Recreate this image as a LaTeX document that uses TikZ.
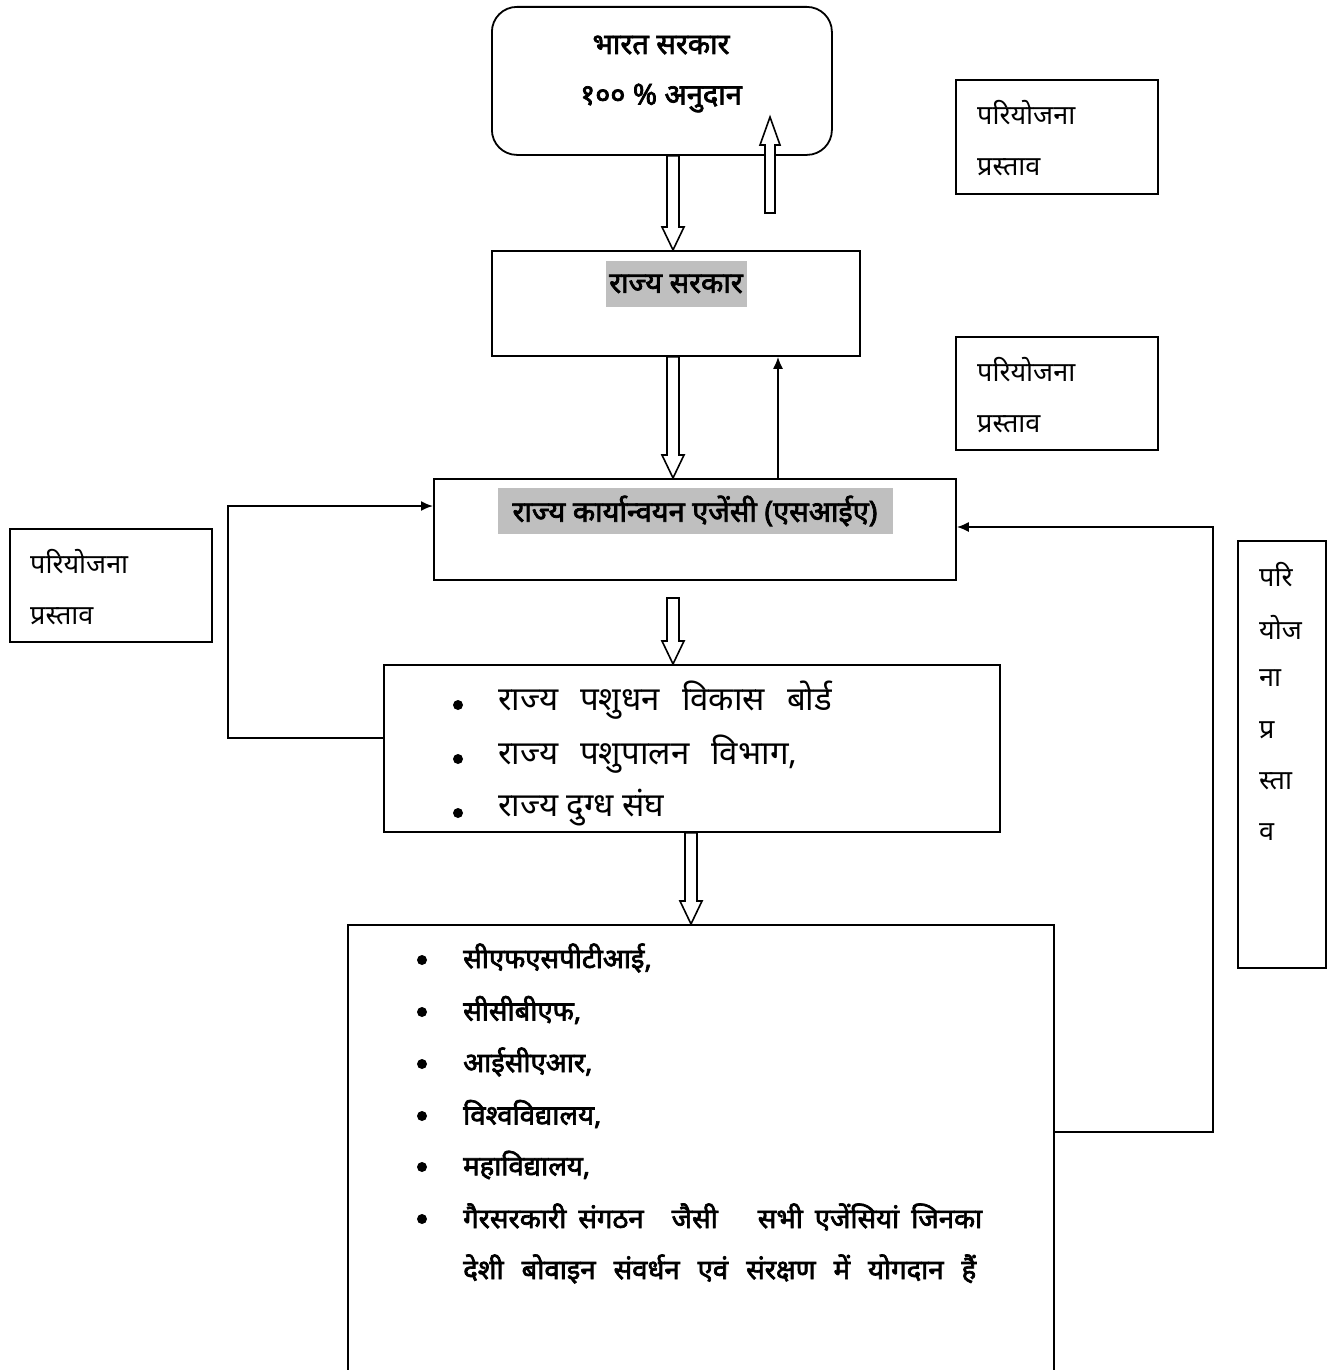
\documentclass[tikz,border=0pt]{standalone}
\usepackage{fontspec}
\newfontfamily\dev[Script=Devanagari]{Noto Sans}
\newfontfamily\devb[Script=Devanagari,FakeBold=2.5]{Noto Sans}
\usetikzlibrary{calc,arrows.meta}
\newcommand\hollowdown[2]{%
  \draw[hollow] let \p1=#1, \p2=#2 in
    (\x1-6pt,\y1) -- (\x1-6pt,\y2+23pt) -- (\x1-11pt,\y2+23pt) -- (\x1,\y2)
    -- (\x1+11pt,\y2+23pt) -- (\x1+6pt,\y2+23pt) -- (\x1+6pt,\y1) -- cycle;}
\newcommand\hollowup[2]{%
  \draw[hollow] let \p1=#1, \p2=#2 in
    (\x1-5pt,\y1) -- (\x1-5pt,\y2-28pt) -- (\x1-10pt,\y2-28pt) -- (\x1,\y2)
    -- (\x1+10pt,\y2-28pt) -- (\x1+5pt,\y2-28pt) -- (\x1+5pt,\y1) -- cycle;}
\newcommand\gap[1]{\hspace{#1pt}}
\begin{document}
\begin{tikzpicture}[x=1pt,y=-1pt,
  box/.style={draw, line width=1.8pt, rectangle, inner sep=0pt, anchor=north west},
  lbl/.style={font=\dev\fontsize{27}{30}\selectfont, anchor=west, inner sep=0pt},
  hd/.style={font=\devb\fontsize{29}{32}\selectfont, inner sep=0pt},
  item/.style={font=\dev\fontsize{33}{36}\selectfont, anchor=west, inner sep=0pt},
  bitem/.style={font=\devb\fontsize{27.5}{32}\selectfont, anchor=west, inner sep=0pt},
  hl/.style={fill=black!25, minimum height=46pt},
  dot/.style={circle, fill=black, inner sep=0pt, minimum size=10pt},
  conn/.style={line width=1.8pt, -{Latex[length=12pt,width=10pt]}},
  hollow/.style={line width=1.6pt, fill=white, line join=miter}]
\useasboundingbox (0,0) rectangle (1336,1370);
\fill[white] (0,0) rectangle (1336,1370);

% main boxes
\node[box, rounded corners=25pt, minimum width=340pt, minimum height=148pt] (goi) at (491,6) {};
\node[hd] (goi1) at (661,45) {भारत सरकार};
\node[hd] (goi2) at (661,98) {१०० \% अनुदान};

\node[box, minimum width=368pt, minimum height=105pt] (rs) at (491,250) {};
\node[hd, hl, minimum width=141pt] (rst) at (676,284) {राज्य सरकार};

\node[box, minimum width=522pt, minimum height=101pt] (sia) at (433,478) {};
\node[hd, hl, minimum width=395pt] (siat) at (695,511) {राज्य कार्यान्वयन एजेंसी (एसआईए)};

\node[box, minimum width=616pt, minimum height=167pt] (st) at (383,664) {};
\node[dot] (sb1) at (458,705) {};
\node[dot] (sb2) at (458,759) {};
\node[dot] (sb3) at (458,813) {};
\node[item] (s1) at (498,700) {राज्य\gap{22}पशुधन\gap{22}विकास\gap{22}बोर्ड};
\node[item] (s2) at (498,754) {राज्य\gap{22}पशुपालन\gap{22}विभाग,};
\node[item] (s3) at (498,808) {राज्य दुग्ध संघ};

\node[box, minimum width=706pt, minimum height=470pt] (ag) at (347,924) {};
\foreach \y/\t [count=\i] in {958/{सीएफएसपीटीआई,},1010/{सीसीबीएफ,},1062/{आईसीएआर,},1114/{विश्वविद्यालय,},1165/{महाविद्यालय,},1217/{गैरसरकारी\gap{12}संगठन\gap{28}जैसी\gap{40}सभी\gap{12}एजेंसियां\gap{12}जिनका}}{
  \node[dot] (ab\i) at (422,\y+2) {};
  \node[bitem] (a\i) at (463,\y) {\t};
}
\node[bitem] (a7) at (463,1269) {देशी\gap{18}बोवाइन\gap{18}संवर्धन\gap{18}एवं\gap{18}संरक्षण\gap{18}में\gap{18}योगदान\gap{18}हैं};

% proposal boxes
\node[box, minimum width=202pt, minimum height=114pt] (p1) at (955,79) {};
\node[lbl] (p1a) at (977,113) {परियोजना};
\node[lbl] (p1b) at (977,167) {प्रस्ताव};

\node[box, minimum width=202pt, minimum height=113pt] (p2) at (955,336) {};
\node[lbl] (p2a) at (977,370) {परियोजना};
\node[lbl] (p2b) at (977,424) {प्रस्ताव};

\node[box, minimum width=202pt, minimum height=113pt] (p3) at (9,528) {};
\node[lbl] (p3a) at (30,562) {परियोजना};
\node[lbl] (p3b) at (30,616) {प्रस्ताव};

\node[box, minimum width=88pt, minimum height=427pt] (p4) at (1237,540) {};
\foreach \y/\t [count=\i] in {575/परि,627/योज,678/ना,730/प्र,781/स्ता,832/व}{
  \node[lbl] (p4\i) at (1259,\y) {\t};
}

% hollow arrows
\coordinate (x1) at (673,0);
\coordinate (x3) at (691,0);
\coordinate (upb) at (770,213);
\coordinate (upt) at (770,117);
\coordinate (dn4) at (673,598);
\hollowdown{(goi.south -| x1)}{(rs.north -| x1)}
\hollowup{(upb)}{(upt)}
\hollowdown{(rs.south -| x1)}{(sia.north -| x1)}
\hollowdown{(dn4)}{(st.north -| x1)}
\hollowdown{(st.south -| x3)}{(ag.north -| x3)}

% thin connectors
\coordinate (ux) at (778,0);
\draw[conn] (sia.north -| ux) -- (rs.south -| ux);
\coordinate (lc) at (228,738);
\coordinate (lt) at (228,506);
\draw[conn] (st.west |- lc) -- (lc) -- (lt) -- (sia.west |- lt);
\coordinate (rc) at (1213,1132);
\coordinate (rt) at (1213,527);
\draw[conn] (ag.east |- rc) -- (rc) -- (rt) -- (sia.east |- rt);
\end{tikzpicture}
\end{document}
